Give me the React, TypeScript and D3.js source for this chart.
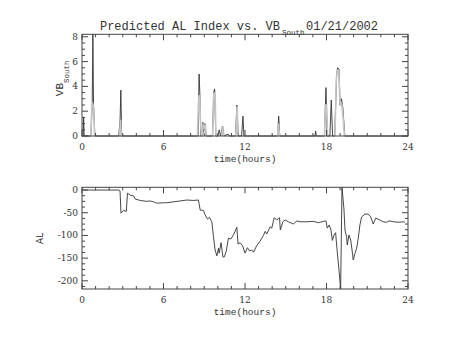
import * as d3 from "d3";
import React from "react";

// VB_south, dark trace (hours, value)
const vbTime = [0, 0.08, 0.12, 0.16, 0.65, 0.75, 0.8, 0.85, 0.95, 2.7, 2.8, 2.86, 2.92, 8.55, 8.62, 8.68, 8.75, 8.85, 8.9, 8.95, 9.05, 9.15, 9.6, 9.7, 9.76, 9.85, 10.0, 10.1, 10.2, 10.35, 10.45, 10.75, 10.85, 11.3, 11.4, 11.5, 11.75, 11.85, 11.92, 14.4, 14.48, 14.56, 17.15, 17.2, 17.25, 17.85, 17.96, 18.05, 18.25, 18.35, 18.45, 18.6, 18.75, 18.82, 18.92, 19.0, 19.1, 19.2, 19.35, 24];
const vbValue = [0, 0, 1.5, 0, 0, 2.5, 8.2, 2.5, 0, 0, 1.2, 3.7, 0, 0, 5.0, 3.3, 0, 0, 1.1, 0.3, 1.0, 0, 0, 3.5, 3.8, 0, 0, 0.5, 0, 0.8, 0, 0.15, 0, 0, 2.5, 0, 0, 1.6, 0, 0, 1.6, 0, 0, 0.4, 0, 0, 3.9, 0, 0, 2.9, 0, 0, 5.0, 5.5, 5.4, 2.5, 3.0, 2.3, 0, 0];

// VB_south, light trace (null = gap)
const vbGrayTime = [0.65, 0.72, 0.78, 0.86, 0.92, 1, 2.76, 2.84, 2.9, 3, 8.5, 8.58, 8.66, 8.72, 8.8, 8.82, 8.86, 8.92, 9.0, 9.08, 9.14, 9.2, 9.62, 9.7, 9.8, 9.86, 9.9, 10.28, 10.35, 10.42, 10.5, 11.32, 11.42, 11.48, 11.5, 14.4, 14.47, 14.54, 14.6, 17.85, 17.92, 18.0, 18.08, 18.1, 18.62, 18.72, 18.8, 18.9, 18.98, 19.05, 19.12, 19.22, 19.32];
const vbGrayValue = [0, 2.4, 2.6, 2.3, 0, null, 0, 1.3, 0, null, 0, 3.0, 3.3, 1.2, 0, null, 0, 1.0, 0.6, 0.9, 0, null, 0, 3.4, 3.5, 0, null, 0, 0.75, 0, null, 0, 2.4, 0.3, null, 0, 1.0, 0, null, 0, 2.5, 2.5, 0, null, 0, 4.6, 5.3, 5.3, 3.0, 2.4, 2.6, 1.5, 0];

// AL index (hours, nT)
const alTime = [0, 2.69, 2.8, 2.87, 3.06, 3.26, 3.35, 3.6, 3.8, 3.92, 4.29, 4.78, 5.0, 5.27, 5.5, 6.0, 6.25, 7.0, 7.72, 8.2, 8.57, 8.7, 8.94, 9.07, 9.24, 9.38, 9.56, 9.68, 9.8, 9.93, 10.05, 10.1, 10.24, 10.37, 10.46, 10.61, 10.78, 10.95, 11.15, 11.4, 11.49, 11.64, 11.83, 12.0, 12.18, 12.33, 12.5, 12.63, 12.87, 13.1, 13.36, 13.48, 13.6, 13.85, 13.97, 14.15, 14.34, 14.54, 14.6, 14.79, 14.96, 15.2, 15.57, 15.8, 16.05, 16.54, 17.03, 17.4, 17.77, 17.96, 18.06, 18.2, 18.33, 18.43, 18.55, 18.67, 18.8, 18.92, 19.04, 19.14, 19.29, 19.36, 19.48, 19.53, 19.65, 19.78, 19.88, 19.97, 20.1, 20.22, 20.34, 20.46, 20.59, 20.83, 21.07, 21.25, 21.44, 21.62, 21.93, 22.18, 22.43, 22.6, 22.96, 23.3, 23.67, 23.77];
const alValue = [0, 0, -2, -51, -45, -47, -7, -12, -13, -20, -23, -25, -24, -26, -29, -28, -28, -25, -22, -23, -22, -44, -45, -55, -64, -60, -70, -103, -132, -145, -128, -139, -116, -147, -148, -136, -106, -108, -99, -82, -119, -116, -123, -139, -127, -134, -132, -137, -122, -113, -100, -91, -97, -81, -84, -61, -66, -61, -88, -70, -66, -70, -75, -68, -70, -70, -69, -72, -69, -68, -84, -77, -88, -111, -99, -94, -139, -176, -218, 6, -44, -88, -103, -121, -99, -110, -132, -154, -139, -128, -106, -77, -59, -53, -53, -59, -75, -62, -66, -70, -71, -68, -70, -71, -70, -71];

const xMajor = [0, 6, 12, 18, 24];
const vbMajor = [0, 2, 4, 6, 8];
const alMajor = [0, -50, -100, -150, -200];

const W = 454;
const H = 341;
const AX = "#444";
const TXT = "#333";
const mono = "'Liberation Mono', 'DejaVu Serif', serif";
const serif = "'DejaVu Serif', serif";

function Panel({ top, bottom, yScale, yMajor, yMinorStep, children }) {
  const x = d3.scaleLinear().domain([0, 24]).range([82, 408]);
  const xMinor = d3.range(0, 24.001, 1);
  const [y0, y1] = yScale.domain();
  const yMinor = d3.range(Math.ceil(y0 / yMinorStep) * yMinorStep, y1 + 1e-6, yMinorStep);
  const L = 82, R = 408;
  return (
    <g>
      {children(x)}
      <rect x={L} y={top} width={R - L} height={bottom - top} fill="none" stroke={AX} strokeWidth={1} />
      {xMinor.map((t) => {
        const len = xMajor.includes(t) ? 6 : 3;
        return (
          <g key={"x" + t}>
            <line x1={x(t)} x2={x(t)} y1={bottom} y2={bottom - len} stroke={AX} />
            <line x1={x(t)} x2={x(t)} y1={top} y2={top + len} stroke={AX} />
          </g>
        );
      })}
      {yMinor.map((v) => {
        const major = yMajor.some((m) => Math.abs(m - v) < 1e-6);
        const len = major ? 6 : 3;
        return (
          <g key={"y" + v}>
            <line x1={L} x2={L + len} y1={yScale(v)} y2={yScale(v)} stroke={AX} />
            <line x1={R} x2={R - len} y1={yScale(v)} y2={yScale(v)} stroke={AX} />
          </g>
        );
      })}
      {xMajor.map((t) => (
        <text key={"xl" + t} x={x(t)} y={bottom + 14} textAnchor="middle" style={{ fontFamily: serif, fontSize: 9 }} fill={TXT}>
          {t}
        </text>
      ))}
      {yMajor.map((v) => (
        <text key={"yl" + v} x={78} y={yScale(v) + 3} textAnchor="end" style={{ fontFamily: serif, fontSize: 9 }} fill={TXT}>
          {v}
        </text>
      ))}
      <text x={(L + R) / 2} y={bottom + 26} textAnchor="middle" style={{ fontFamily: mono, fontSize: 9.5 }} fill={TXT}>
        time(hours)
      </text>
    </g>
  );
}

export default function App() {
  const vbScale = d3.scaleLinear().domain([0, d3.max(vbValue)]).range([136, 34.3]);
  const alScale = d3.scaleLinear().domain(d3.extent(alValue)).range([289, 187.3]);

  const vbPts = vbTime.map((t, i) => [t, vbValue[i]]);
  const vbGrayPts = vbGrayTime.map((t, i) => [t, vbGrayValue[i]]);
  const alPts = alTime.map((t, i) => [t, alValue[i]]);

  return (
    <svg width={W} height={H} style={{ position: "absolute", left: 0, top: 0, background: "#fff" }}>
      <rect width={W} height={H} fill="#fff" />
      <text x={280} y={29.5} textAnchor="end" style={{ fontFamily: mono, fontSize: 12 }} fill={TXT}>
        Predicted AL Index vs. VB
      </text>
      <text x={282} y={35} style={{ fontFamily: mono, fontSize: 7.5 }} fill={TXT}>South</text>
      <text x={306} y={29.5} style={{ fontFamily: mono, fontSize: 12 }} fill={TXT}>01/21/2002</text>

      <Panel top={34.3} bottom={136} yScale={vbScale} yMajor={vbMajor} yMinorStep={0.5}>
        {(x) => {
          const line = d3.line().defined((d) => d[1] != null).x((d) => x(d[0])).y((d) => vbScale(d[1]));
          return (
            <g>
              <path d={line(vbPts)} fill="none" stroke="#333" strokeWidth={0.9} />
              <path d={line(vbGrayPts)} fill="none" stroke="#c4c4c4" strokeWidth={1.6} />
            </g>
          );
        }}
      </Panel>
      <g transform="translate(63,85) rotate(-90)">
        <text x={2} y={0} textAnchor="end" style={{ fontFamily: mono, fontSize: 11 }} fill={TXT}>VB</text>
        <text x={2} y={5.5} style={{ fontFamily: mono, fontSize: 7.5 }} fill={TXT}>South</text>
      </g>

      <Panel top={187.3} bottom={289} yScale={alScale} yMajor={alMajor} yMinorStep={12.5}>
        {(x) => {
          const line = d3.line().x((d) => x(d[0])).y((d) => alScale(d[1]));
          return <path d={line(alPts)} fill="none" stroke="#333" strokeWidth={0.9} />;
        }}
      </Panel>
      <g transform="translate(43,238) rotate(-90)">
        <text x={0} y={0} textAnchor="middle" style={{ fontFamily: mono, fontSize: 10 }} fill={TXT}>AL</text>
      </g>
    </svg>
  );
}
